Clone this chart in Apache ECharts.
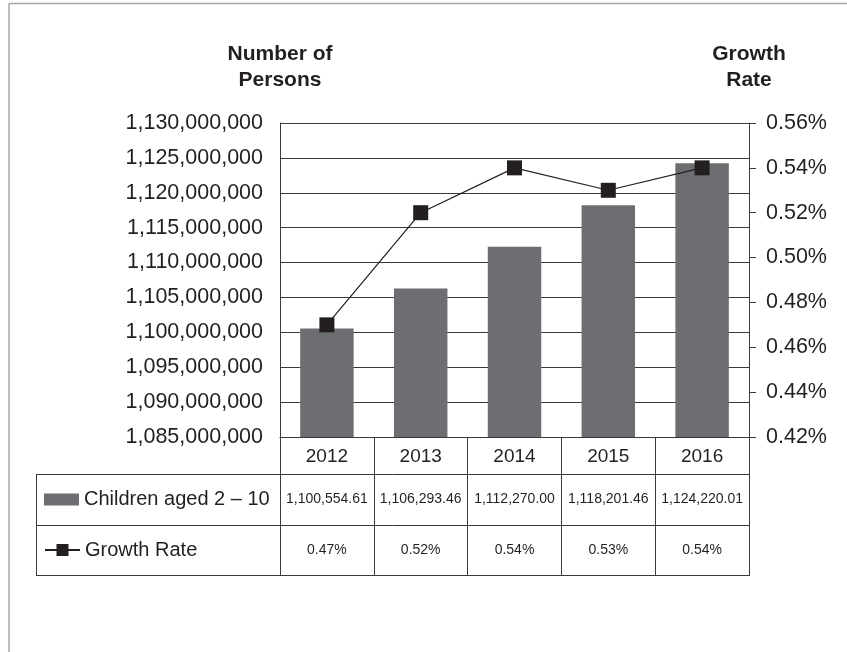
<!DOCTYPE html>
<html>
<head>
<meta charset="utf-8">
<script src="https://cdn.jsdelivr.net/npm/echarts@6/dist/echarts.min.js"></script>
<style>
  html, body { margin: 0; padding: 0; background: #fff; }
  #chart { width: 847px; height: 652px; }
</style>
</head>
<body>
<div id="chart"></div>
<script>
// ---- data ----
const years = ['2012', '2013', '2014', '2015', '2016'];
// Children aged 2 – 10, thousands of persons
const childrenThousands = [1100554.61, 1106293.46, 1112270.00, 1118201.46, 1124220.01];
// Growth rate, percent
const growthRate = [0.47, 0.52, 0.54, 0.53, 0.54];
// Axis ranges
const personsAxis = { min: 1085000000, max: 1130000000, interval: 5000000 };
const rateAxis = { min: 0.42, max: 0.56, interval: 0.02 };

// ---- derived ----
const childrenPersons = childrenThousands.map(v => Math.round(v * 1000));
const childrenText = childrenThousands.map(v =>
  v.toLocaleString('en-US', { minimumFractionDigits: 2, maximumFractionDigits: 2 }));
const rateText = growthRate.map(v => v.toFixed(2) + '%');

// ---- layout ----
const W = 847, H = 652;
const plotLeft = 280, plotRight = 749, plotTop = 123, plotBottom = 437;
const tableLeft = 36;
const rowLines = [474, 525, 575];

const FONT = '"Liberation Sans", Arial, Helvetica, sans-serif';
const INK = '#231f20';
const GRID = '#3a3a3a';
const BAR = '#6d6e71';

const chart = echarts.init(document.getElementById('chart'), null, { renderer: 'canvas' });

const hLine = (y, x1, x2) => ({
  type: 'line', silent: true,
  shape: { x1: x1, y1: y + 0.5, x2: x2, y2: y + 0.5 },
  style: { stroke: GRID, lineWidth: 1 }
});

chart.setOption({
  backgroundColor: '#fff',
  animation: false,
  textStyle: { fontFamily: FONT, color: INK },
  grid: {
    left: plotLeft, right: W - plotRight, top: plotTop, bottom: H - plotBottom,
    containLabel: false
  },
  legend: [
    {
      data: ['Children aged 2 – 10'],
      left: 44, top: 489.5, padding: 0,
      icon: 'rect', itemWidth: 35, itemHeight: 12,
      selectedMode: false,
      textStyle: { fontFamily: FONT, fontSize: 20, color: INK }
    },
    {
      data: ['Growth Rate'],
      left: 44, top: 540, padding: 0,
      itemWidth: 35, itemHeight: 15,
      selectedMode: false,
      textStyle: { fontFamily: FONT, fontSize: 20, color: INK }
    }
  ],
  xAxis: [
    {
      type: 'category', data: years, position: 'bottom',
      axisLine: { show: true, lineStyle: { color: GRID, width: 1 } },
      axisTick: { show: true, interval: 0, length: rowLines[2] - plotBottom, lineStyle: { color: GRID, width: 1 } },
      axisLabel: { fontFamily: FONT, fontSize: 19, color: INK, margin: 10, interval: 0 }
    },
    {
      type: 'category', data: years, position: 'bottom', gridIndex: 0,
      axisLine: { show: false }, axisTick: { show: false },
      axisLabel: {
        fontFamily: FONT, fontSize: 14, color: INK, interval: 0,
        margin: (rowLines[0] + rowLines[1]) / 2 - 7 - plotBottom,
        formatter: (v, i) => childrenText[i]
      }
    },
    {
      type: 'category', data: years, position: 'bottom', gridIndex: 0,
      axisLine: { show: false }, axisTick: { show: false },
      axisLabel: {
        fontFamily: FONT, fontSize: 14, color: INK, interval: 0,
        margin: (rowLines[1] + rowLines[2]) / 2 - 7 - plotBottom,
        formatter: (v, i) => rateText[i]
      }
    }
  ],
  yAxis: [
    {
      type: 'value', position: 'left',
      min: personsAxis.min, max: personsAxis.max, interval: personsAxis.interval,
      name: 'Number of\nPersons', nameLocation: 'end', nameGap: 30,
      nameTextStyle: { fontFamily: FONT, fontSize: 21, fontWeight: 'bold', color: INK, lineHeight: 26, align: 'center' },
      axisLine: { show: true, lineStyle: { color: GRID, width: 1 } },
      axisTick: { show: false },
      splitLine: { show: true, lineStyle: { color: GRID, width: 1 } },
      axisLabel: {
        fontFamily: FONT, fontSize: 21.5, color: INK, margin: 17,
        formatter: v => v.toLocaleString('en-US')
      }
    },
    {
      type: 'value', position: 'right',
      min: rateAxis.min, max: rateAxis.max, interval: rateAxis.interval,
      name: 'Growth\nRate', nameLocation: 'end', nameGap: 30,
      nameTextStyle: { fontFamily: FONT, fontSize: 21, fontWeight: 'bold', color: INK, lineHeight: 26, align: 'center' },
      axisLine: { show: true, lineStyle: { color: GRID, width: 1 } },
      axisTick: { show: true, inside: false, length: 7, lineStyle: { color: GRID, width: 1 } },
      splitLine: { show: false },
      axisLabel: {
        fontFamily: FONT, fontSize: 21.5, color: INK, margin: 17,
        formatter: v => v.toFixed(2) + '%'
      }
    }
  ],
  series: [
    {
      name: 'Children aged 2 – 10', type: 'bar',
      xAxisIndex: 0, yAxisIndex: 0,
      data: childrenPersons,
      barWidth: '57%',
      itemStyle: { color: BAR },
      z: 2
    },
    {
      name: 'Growth Rate', type: 'line',
      xAxisIndex: 0, yAxisIndex: 1,
      data: growthRate,
      symbol: 'rect', symbolSize: 15,
      itemStyle: { color: INK },
      lineStyle: { color: INK, width: 1.2 },
      z: 3
    }
  ],
  graphic: [
    // page frame
    { type: 'line', silent: true, shape: { x1: 9, y1: 3.5, x2: W, y2: 3.5 }, style: { stroke: '#a8a8a8', lineWidth: 1.5 } },
    { type: 'line', silent: true, shape: { x1: 9, y1: 3.5, x2: 9, y2: H }, style: { stroke: '#a8a8a8', lineWidth: 1.5 } },
    // data table rules
    hLine(rowLines[0], tableLeft, plotRight),
    hLine(rowLines[1], tableLeft, plotRight),
    hLine(rowLines[2], tableLeft, plotRight + 1),
    { type: 'line', silent: true, shape: { x1: tableLeft + 0.5, y1: rowLines[0], x2: tableLeft + 0.5, y2: rowLines[2] + 1 }, style: { stroke: GRID, lineWidth: 1 } }
  ]
});
</script>
</body>
</html>
